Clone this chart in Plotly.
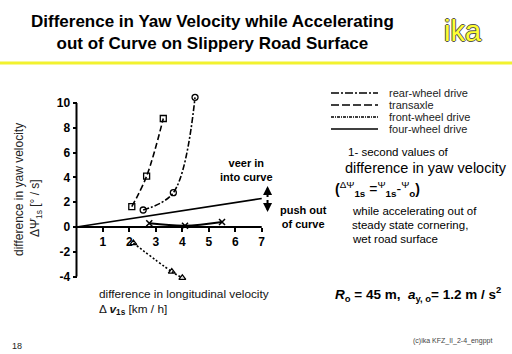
import plotly.graph_objects as go

W, H = 512, 354

# ---- data ----
transaxle_x = [2.09, 2.65, 3.28]
transaxle_y = [1.64, 4.10, 8.75]
rear_x = [2.52, 3.66, 4.48]
rear_y = [1.37, 2.77, 10.46]
front_x = [2.15, 3.60, 4.00]
front_y = [-1.30, -3.60, -4.10]
four_x = [2.75, 4.10, 5.50]
four_y = [0.30, 0.10, 0.40]
boundary_x = [0.0, 7.0]
boundary_y = [0.0, 2.3]
x_ticks = [1, 2, 3, 4, 5, 6, 7]
y_ticks = [10, 8, 6, 4, 2, 0, -2, -4]
y_ticktext = ["10", "8", "6", "4", "2", "0", "-2", "-4"]
legend_names = ["rear-wheel drive", "transaxle", "front-wheel drive", "four-wheel drive"]
legend_dash = ["8px,2px,2px,2px", "8px,3px", "3px,1px,1px,1px", "solid"]

FONT = "Liberation Sans, Arial, sans-serif"


def px(x):
    return x / W


def py(y):
    return (H - y) / H


fig = go.Figure()

common = dict(mode="lines+markers", line_shape="spline", cliponaxis=False, showlegend=False)
fig.add_trace(go.Scatter(x=transaxle_x, y=transaxle_y,
                         line=dict(color="black", width=1.6, dash="6px,3px"),
                         marker=dict(symbol="square-open", size=6, color="black", line=dict(width=1.3)),
                         **common))
fig.add_trace(go.Scatter(x=rear_x, y=rear_y,
                         line=dict(color="black", width=1.6, dash="6px,2px,2px,2px"),
                         marker=dict(symbol="circle-open", size=6, color="black", line=dict(width=1.3)),
                         **common))
fig.add_trace(go.Scatter(x=front_x, y=front_y,
                         line=dict(color="black", width=1.6, dash="2px,2px"),
                         marker=dict(symbol="triangle-up-open", size=6, color="black", line=dict(width=1.3)),
                         **common))
fig.add_trace(go.Scatter(x=four_x, y=four_y,
                         line=dict(color="black", width=2),
                         marker=dict(symbol="x-thin-open", size=6, color="black", line=dict(width=1.5)),
                         **common))
fig.add_trace(go.Scatter(x=boundary_x, y=boundary_y, mode="lines", cliponaxis=False,
                         line=dict(color="black", width=1.6), showlegend=False))

# pixel calibration of the axes
X0P, XSC = 76.5, 26.46      # pixel of x=0, pixels per unit
Y0P, YSC = 227.0, 12.4      # pixel of y=0, pixels per unit
XR = [-0.2, 7.6]
YR = [-4.6, 11.0]

fig.update_layout(
    width=W, height=H, margin=dict(l=0, r=0, t=0, b=0),
    paper_bgcolor="white", plot_bgcolor="white",
    font=dict(family=FONT, color="black", size=11),
    xaxis=dict(domain=[px(X0P + XR[0] * XSC), px(X0P + XR[1] * XSC)], range=XR,
               anchor="free", position=py(Y0P),
               showline=False, ticks="outside", ticklen=4,
               tickwidth=2, tickcolor="black", tickvals=x_ticks, showgrid=False, zeroline=False,
               tickfont=dict(size=12, weight="bold", family=FONT)),
    yaxis=dict(domain=[py(Y0P - YR[0] * YSC), py(Y0P - YR[1] * YSC)], range=YR,
               anchor="free", position=px(X0P),
               showline=False, ticks="outside", ticklen=4, tickwidth=2, tickcolor="black",
               tickvals=y_ticks, ticktext=y_ticktext, showgrid=False, zeroline=False,
               tickfont=dict(size=12, weight="bold", family=FONT)),
)

shapes = []
# axis lines (x from 0 to 7 at y=0, y from -4 to 10 at x=0)
shapes.append(dict(type="line", xref="x", yref="y", x0=0, x1=x_ticks[-1], y0=0, y1=0,
                   line=dict(color="black", width=2)))
shapes.append(dict(type="line", xref="x", yref="y", x0=0, x1=0, y0=y_ticks[-1], y1=y_ticks[0],
                   line=dict(color="black", width=2)))
# yellow rule under title
shapes.append(dict(type="line", xref="paper", yref="paper", x0=0, x1=1, y0=py(63), y1=py(63),
                   line=dict(color="#f2f22e", width=3)))
# legend samples
LEG_Y = [93, 105, 117, 129]
for i, dash in enumerate(legend_dash):
    shapes.append(dict(type="line", xref="paper", yref="paper", x0=px(331), x1=px(378),
                       y0=py(LEG_Y[i]), y1=py(LEG_Y[i]), line=dict(color="black", width=1.6, dash=dash)))
fig.update_layout(shapes=shapes)

ann = []


def text(x, y, t, size=11, xanchor="left", bold=False, color="black", angle=0, **kw):
    ann.append(dict(x=px(x), y=py(y), xref="paper", yref="paper", text=t, showarrow=False,
                    xanchor=xanchor, yanchor="middle", textangle=angle,
                    font=dict(size=size, color=color, family=FONT, weight="bold" if bold else "normal"),
                    **kw))


# title
text(212, 32, "Difference in Yaw Velocity while Accelerating<br>out of Curve on Slippery Road Surface",
     size=17, xanchor="center", bold=True)
ann.append(dict(x=px(463), y=py(31), xref="paper", yref="paper", text="ika", showarrow=False,
                xanchor="center", yanchor="middle",
                font=dict(size=29, color="#ffff30", family=FONT,
                          shadow="1px 0 0 #555, -1px 0 0 #555, 0 1px 0 #555, 0 -1px 0 #555")))
# legend text
for i, name in enumerate(legend_names):
    text(387, LEG_Y[i], name, size=11, color="#222")

text(346, 152, "1- second values of", size=11.5)
text(343, 168, "difference in yaw velocity", size=14.5)
text(333, 189, "<b>(</b><sup>ΔΨ</sup><b><sub>1s</sub></b> =<sup>Ψ</sup><b><sub>1s</sub></b>-<sup>Ψ</sup><b><sub>o</sub></b><b>)</b>",
     size=14)
text(350, 211, "while accelerating out of", size=11.5)
text(350, 225, "steady state cornering,", size=11.5)
text(350, 239, "wet road surface", size=11.5)

text(218, 170, "veer in<br>into curve", size=11, bold=True)
text(278, 217, "push out<br>of curve", size=11, bold=True)

text(97, 294, "difference in longitudinal velocity", size=11.8, color="#111")
text(97, 309, "Δ <b><i>v</i></b><sub><b>1s</b></sub> [km / h]", size=11.8, color="#111")
text(333, 294, "<b><i>R</i></b><sub>o</sub> = 45 m,  <b><i>a</i></b><sub>y, o</sub>= 1.2 m / s<sup>2</sup>",
     size=13.5, bold=True)

# y-axis title
text(19, 190, "difference in yaw velocity", size=12, color="#222", angle=-90, xanchor="center")
text(36, 208, "ΔΨ̇<sub>1s</sub> [° / s]", size=12, color="#222", angle=-90, xanchor="center")

# footer
text(10, 346, "18", size=9, color="#222")
text(494, 341, "(c)ika KFZ_II_2-4_engppt", size=7, color="#444", xanchor="right")

# veer / push arrows
for tip in (3.3, 1.2):
    ann.append(dict(x=7.22, y=tip, ax=7.22, ay=2.3, xref="x", yref="y", axref="x", ayref="y",
                    text="", showarrow=True, arrowhead=2, arrowsize=0.9, arrowwidth=2,
                    arrowcolor="black"))

fig.update_layout(annotations=ann)
fig.write_html("out.html")
